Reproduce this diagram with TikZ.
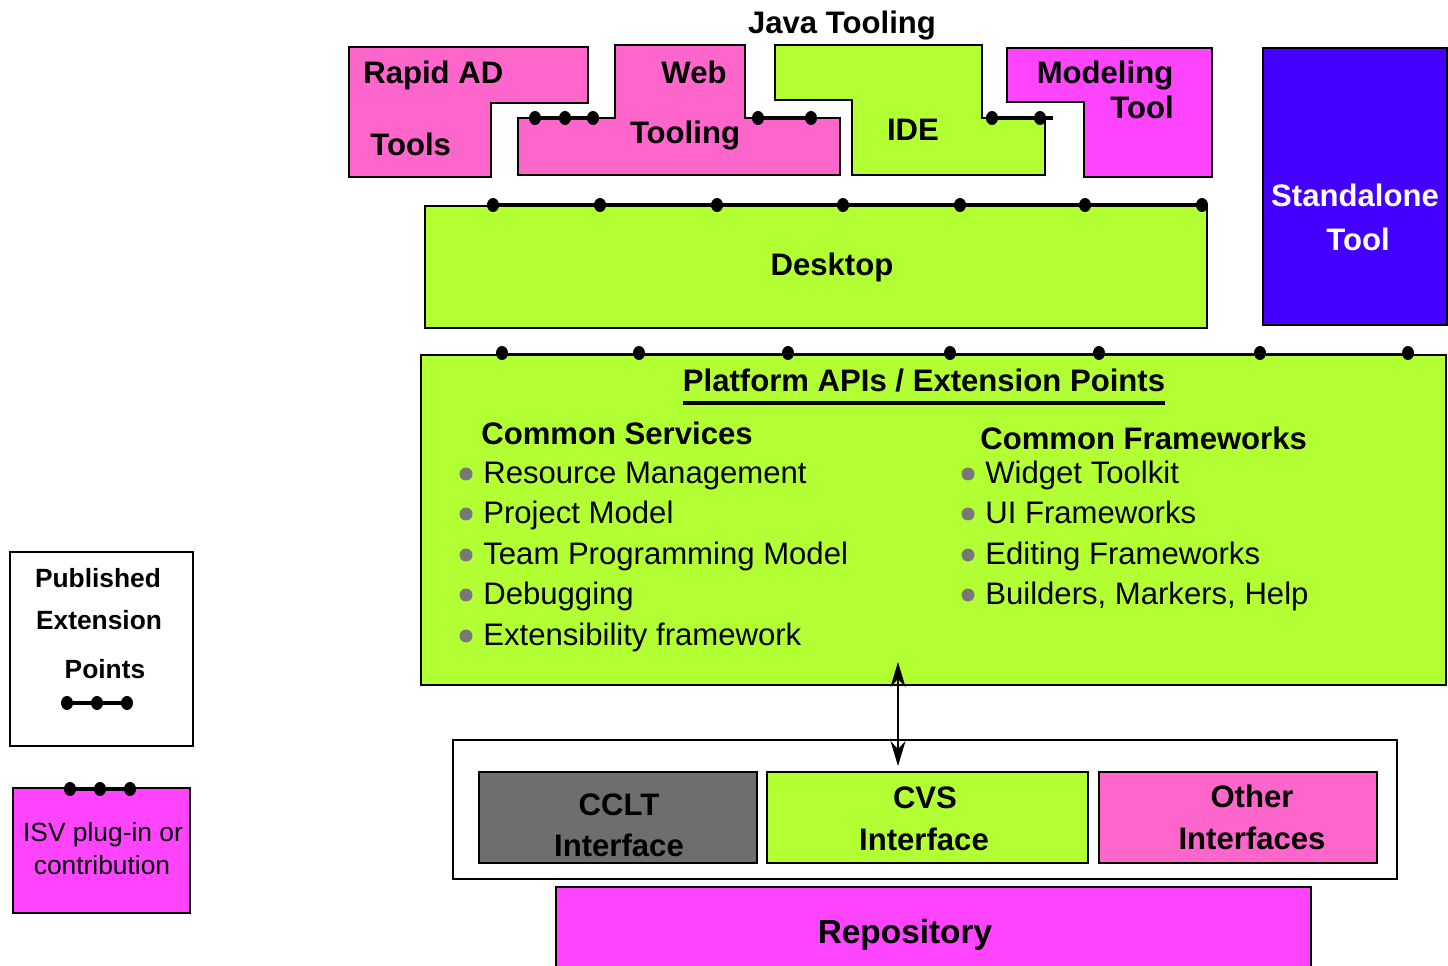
\documentclass[tikz,border=0pt]{standalone}
\usepackage{fontspec}
\setmainfont{Liberation Sans}
\usetikzlibrary{arrows.meta,shapes.geometric}
\definecolor{limegreen}{RGB}{178,255,51}
\definecolor{toolpink}{RGB}{255,102,204}
\definecolor{plugmagenta}{RGB}{255,68,255}
\definecolor{toolblue}{RGB}{68,0,255}
\definecolor{cvsgray}{RGB}{110,110,110}
\definecolor{bulgray}{RGB}{120,120,120}

\begin{document}
\begin{tikzpicture}[
  x=0.02cm, y=-0.02cm,
  every node/.style={font=\fontsize{17.7}{21}\selectfont\bfseries},
  lbl/.style={inner sep=0pt, text height=0.72em, text depth=0pt, yshift=-0.08cm},
  item/.style={lbl, anchor=west, font=\fontsize{17.7}{21}\selectfont},
  bul/.style={circle, fill=bulgray, inner sep=0pt, minimum size=0.26cm},
  legend/.style={lbl, font=\fontsize{15}{18}\selectfont\bfseries},
  box/.style={draw, line width=1.1pt},
  sized/.style 2 args={minimum width=#1*0.02cm, minimum height=#2*0.02cm, inner sep=0pt},
  xpt/.style={ellipse, fill, inner sep=0pt, minimum width=0.24cm, minimum height=0.28cm},
  xline/.style={line width=2.3pt},
  link/.style={{Stealth[length=0.5cm, width=0.3cm]}-{Stealth[length=0.5cm, width=0.3cm]}, line width=1.1pt}
]
  \useasboundingbox (0,0) rectangle (1448,966);

  % Java tooling pieces
  \node[lbl] (java) at (842,23) {Java Tooling};
  \draw[box, fill=toolpink] (349,47) -- (588,47) -- (588,103) -- (491,103) -- (491,177) -- (349,177) -- cycle;
  \node[lbl, anchor=west] (rad1) at (363,73) {Rapid AD};
  \node[lbl, anchor=west] (rad2) at (370,145) {Tools};
  \draw[box, fill=toolpink] (518,118) -- (615,118) -- (615,45) -- (745,45) -- (745,118) -- (840,118) -- (840,175) -- (518,175) -- cycle;
  \node[lbl] (web1) at (694,73) {Web};
  \node[lbl] (web2) at (685,133) {Tooling};
  \draw[box, fill=limegreen] (775,45) -- (982,45) -- (982,118) -- (1045,118) -- (1045,175) -- (852,175) -- (852,100) -- (775,100) -- cycle;
  \node[lbl] (ide) at (913,130) {IDE};
  \draw[box, fill=plugmagenta] (1007,48) -- (1212,48) -- (1212,177) -- (1084,177) -- (1084,102) -- (1007,102) -- cycle;
  \node[lbl] (mod1) at (1105,73) {Modeling};
  \node[lbl] (mod2) at (1142,108) {Tool};

  \node[xpt] (rw1) at (535,118) {};
  \node[xpt] (rw2) at (565,118) {};
  \node[xpt] (rw3) at (593,118) {};
  \draw[xline] (rw1.center) -- (rw3.center);
  \node[xpt] (wi1) at (758,118) {};
  \node[xpt] (wi2) at (811,118) {};
  \draw[xline] (wi1.center) -- (wi2.center);
  \node[xpt] (im1) at (992,118) {};
  \node[xpt] (im2) at (1040,118) {};
  \coordinate (imend) at (1053,118);
  \draw[xline] (im1.center) -- (imend);

  % standalone
  \node[box, fill=toolblue, sized={184}{277}] (standalone) at (1355,186.5) {};
  \node[lbl, white] (sa1) at (1355,196) {Standalone};
  \node[lbl, white] (sa2) at (1358,240) {Tool};

  % desktop
  \node[box, fill=limegreen, sized={782}{122}] (desktop) at (816,267) {};
  \node[lbl] (desk) at (832,265) {Desktop};
  \node[xpt] (dk1) at (493,205) {};
  \node[xpt] (dk2) at (600,205) {};
  \node[xpt] (dk3) at (717,205) {};
  \node[xpt] (dk4) at (843,205) {};
  \node[xpt] (dk5) at (960,205) {};
  \node[xpt] (dk6) at (1085,205) {};
  \node[xpt] (dk7) at (1202,205) {};
  \draw[xline] (dk1.center) -- (dk7.center);

  % platform
  \node[box, fill=limegreen, sized={1025}{330}] (platform) at (933.5,520) {};
  \node[xpt] (pf1) at (502,353) {};
  \node[xpt] (pf2) at (639,353) {};
  \node[xpt] (pf3) at (788,353) {};
  \node[xpt] (pf4) at (950,353) {};
  \node[xpt] (pf5) at (1099,353) {};
  \node[xpt] (pf6) at (1260,353) {};
  \node[xpt] (pf7) at (1408,353) {};
  \draw[blue!60!black, line width=0.4pt] (pf1.center) -- (pf7.center);
  \node[lbl] (api) at (924,381) {Platform APIs / Extension Points};
  \draw[line width=2.3pt] ([yshift=-0.22cm]api.south west) -- ([yshift=-0.22cm]api.south east);

  \node[lbl, anchor=west] (cs) at (481,434) {Common Services};
  \node[bul] (csb1) at (466,474) {};
  \node[bul] (csb2) at (466,514) {};
  \node[bul] (csb3) at (466,555) {};
  \node[bul] (csb4) at (466,595) {};
  \node[bul] (csb5) at (466,636) {};
  \node[item] (cs1) at (483,473) {Resource Management};
  \node[item] (cs2) at (483,513) {Project Model};
  \node[item] (cs3) at (483,554) {Team Programming Model};
  \node[item] (cs4) at (483,594) {Debugging};
  \node[item] (cs5) at (483,635) {Extensibility framework};

  \node[lbl, anchor=west] (cf) at (980,439) {Common Frameworks};
  \node[bul] (cfb1) at (968,474) {};
  \node[bul] (cfb2) at (968,514) {};
  \node[bul] (cfb3) at (968,555) {};
  \node[bul] (cfb4) at (968,595) {};
  \node[item] (cf1) at (985,473) {Widget Toolkit};
  \node[item] (cf2) at (985,513) {UI Frameworks};
  \node[item] (cf3) at (985,554) {Editing Frameworks};
  \node[item] (cf4) at (985,594) {Builders, Markers, Help};

  % team interfaces
  \node[box, fill=white, sized={944}{139}] (ifaces) at (925,809.5) {};
  \node[box, fill=cvsgray, sized={278}{91}] (cclt) at (618,817.5) {};
  \node[lbl] (cclt1) at (619,805) {CCLT};
  \node[lbl] (cclt2) at (619,846) {Interface};
  \node[box, fill=limegreen, sized={321}{91}] (cvs) at (927.5,817.5) {};
  \node[lbl] (cvs1) at (925,798) {CVS};
  \node[lbl] (cvs2) at (924,840) {Interface};
  \node[box, fill=toolpink, sized={278}{91}] (other) at (1238,817.5) {};
  \node[lbl] (oth1) at (1252,797) {Other};
  \node[lbl] (oth2) at (1252,839) {Interfaces};

  \coordinate (apitip) at (898,662);
  \coordinate (cvstip) at (898,766);
  \draw[link] (apitip) -- (cvstip);

  \node[box, fill=plugmagenta, sized={755}{83}] (repobox) at (933.5,928.5) {};
  \node[lbl, font=\fontsize{19}{22}\selectfont\bfseries] (repo) at (905,933) {Repository};

  % legend
  \node[box, fill=white, sized={183}{194}] (keypub) at (101.5,649) {};
  \node[legend] (kp1) at (98,577) {Published};
  \node[legend] (kp2) at (99,619) {Extension};
  \node[legend] (kp3) at (105,668) {Points};
  \node[xpt] (kd1) at (67,703) {};
  \node[xpt] (kd2) at (97,703) {};
  \node[xpt] (kd3) at (127,703) {};
  \draw[xline] (kd1.center) -- (kd3.center);

  \node[box, fill=plugmagenta, sized={177}{125}] (keyisv) at (101.5,850.5) {};
  \node[xpt] (ki1) at (70,789) {};
  \node[xpt] (ki2) at (100,789) {};
  \node[xpt] (ki3) at (130,789) {};
  \draw[xline] (ki1.center) -- (ki3.center);
  \node[legend, font=\fontsize{15}{18}\selectfont] (ks1) at (103,831) {ISV plug-in or};
  \node[legend, font=\fontsize{15}{18}\selectfont] (ks2) at (102,864) {contribution};
\end{tikzpicture}
\end{document}
